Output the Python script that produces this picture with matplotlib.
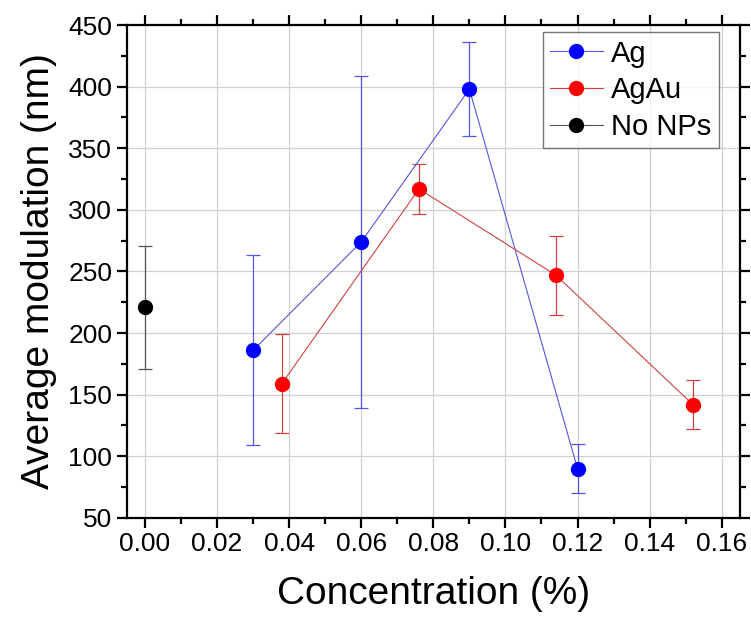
import matplotlib.pyplot as plt
from matplotlib.ticker import MultipleLocator

plt.rcParams['font.family'] = ['Liberation Sans', 'DejaVu Sans']

# datos
ag_x = [0.03, 0.06, 0.09, 0.12]
ag_y = [186, 274, 398, 90]
ag_err = [77, 135, 38, 20]

agau_x = [0.038, 0.076, 0.114, 0.152]
agau_y = [159, 317, 247, 142]
agau_err = [40, 20, 32, 20]

nonp_x = [0.0]
nonp_y = [221]
nonp_err = [50]

fig = plt.figure(figsize=(7.51, 6.27), dpi=100)
ax = fig.add_axes([0.169, 0.174, 0.816, 0.786])

series = [
    (ag_x, ag_y, ag_err, '#0000ff', '#5555dd', 'Ag'),
    (agau_x, agau_y, agau_err, '#ff0000', '#cc4444', 'AgAu'),
    (nonp_x, nonp_y, nonp_err, '#000000', '#555555', 'No NPs'),
]
for x, y, e, c, ec, nombre in series:
    ax.errorbar(x, y, yerr=e, fmt='none', ecolor=ec, elinewidth=0.9,
                capsize=5, capthick=0.9, zorder=2)
    ax.plot(x, y, '-', color=ec, lw=0.8, marker='o', markersize=10,
            markerfacecolor=c, markeredgecolor=c, label=nombre, zorder=3)

ax.set_xlim(-0.005, 0.165)
ax.set_ylim(50, 450)
ax.xaxis.set_major_locator(MultipleLocator(0.02))
ax.xaxis.set_minor_locator(MultipleLocator(0.01))
ax.yaxis.set_major_locator(MultipleLocator(50))
ax.yaxis.set_minor_locator(MultipleLocator(25))
ax.xaxis.set_major_formatter(plt.FormatStrFormatter('%.2f'))

ax.grid(True, which='major', color='#d0d0d0', lw=0.9, zorder=0)
ax.set_axisbelow(True)

for s in ax.spines.values():
    s.set_linewidth(1.6)
ax.tick_params(which='both', direction='out', top=True, right=True,
               width=1.6, labelsize=19)
ax.tick_params(which='major', length=7)
ax.tick_params(which='minor', length=4)

ax.set_xlabel('Concentration (%)', fontsize=28, labelpad=14)
ax.set_ylabel('Average modulation (nm)', fontsize=28, labelpad=8)

leg = ax.legend(loc='upper right', fontsize=21, frameon=True, fancybox=False,
                edgecolor='#555555', handlelength=1.8, handletextpad=0.3,
                borderaxespad=0.25, labelspacing=0.3, borderpad=0.25,
                bbox_to_anchor=(0.978, 1.0))
leg.get_frame().set_linewidth(1.0)

fig.savefig('out.png', dpi=100)
